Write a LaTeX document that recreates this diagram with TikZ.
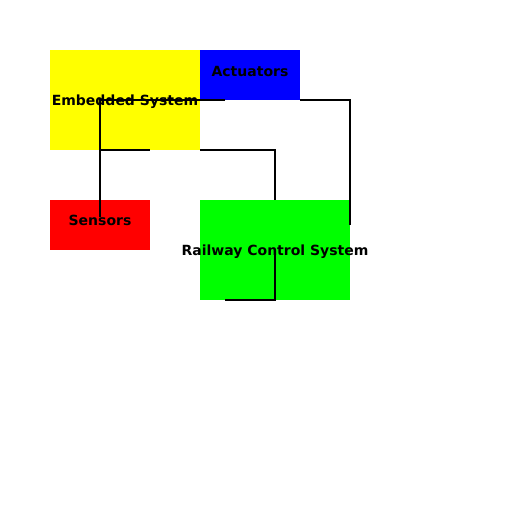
\documentclass[tikz,border=0pt]{standalone}
\usepackage{fontspec}
\setmainfont{DejaVu Sans}
\definecolor{pyellow}{RGB}{255,255,0}
\definecolor{pblue}{RGB}{0,0,255}
\definecolor{pred}{RGB}{255,0,0}
\definecolor{pgreen}{RGB}{0,255,0}
\begin{document}
\begin{tikzpicture}[x=1pt,y=-1pt,
  box/.style={draw=none,inner sep=0pt,anchor=north west},
  lbl/.style={font=\bfseries\fontsize{14}{16}\selectfont,inner sep=0pt},
  wire/.style={draw=black,line width=2pt}]
\useasboundingbox (0,0) rectangle (512,512);
\fill[white] (0,0) rectangle (512,512);
\node[box,fill=pyellow,minimum width=150pt,minimum height=100pt] (emb) at (50,50) {};
\node[box,fill=pblue,minimum width=100pt,minimum height=50pt] (act) at (200,50) {};
\node[box,fill=pred,minimum width=100pt,minimum height=50pt] (sen) at (50,200) {};
\node[box,fill=pgreen,minimum width=150pt,minimum height=100pt] (rcs) at (200,200) {};
\node[lbl] (embl) at (125,101.5) {Embedded System};
\node[lbl] (actl) at (250,71) {Actuators};
\node[lbl] (senl) at (100,220.5) {Sensors};
\node[lbl] (rcsl) at (275,251.5) {Railway Control System};
\coordinate (a1) at (100,100);
\coordinate (a2) at (225,100);
\coordinate (a3) at (100,217);
\coordinate (b1) at (100,150);
\coordinate (b2) at (150,150);
\coordinate (c1) at (200,150);
\coordinate (c2) at (275,150);
\coordinate (c3) at (275,200);
\coordinate (d1) at (300,100);
\coordinate (d2) at (350,100);
\coordinate (d3) at (350,225);
\coordinate (e1) at (275,250);
\coordinate (e2) at (275,300);
\coordinate (e3) at (225,300);
\draw[wire] (a2) -- (a1) -- (a3);
\draw[wire] (b1) -- (b2);
\draw[wire] (c1) -- (c2) -- (c3);
\draw[wire] (d1) -- (d2) -- (d3);
\draw[wire] (e1) -- (e2) -- (e3);
\end{tikzpicture}
\end{document}
